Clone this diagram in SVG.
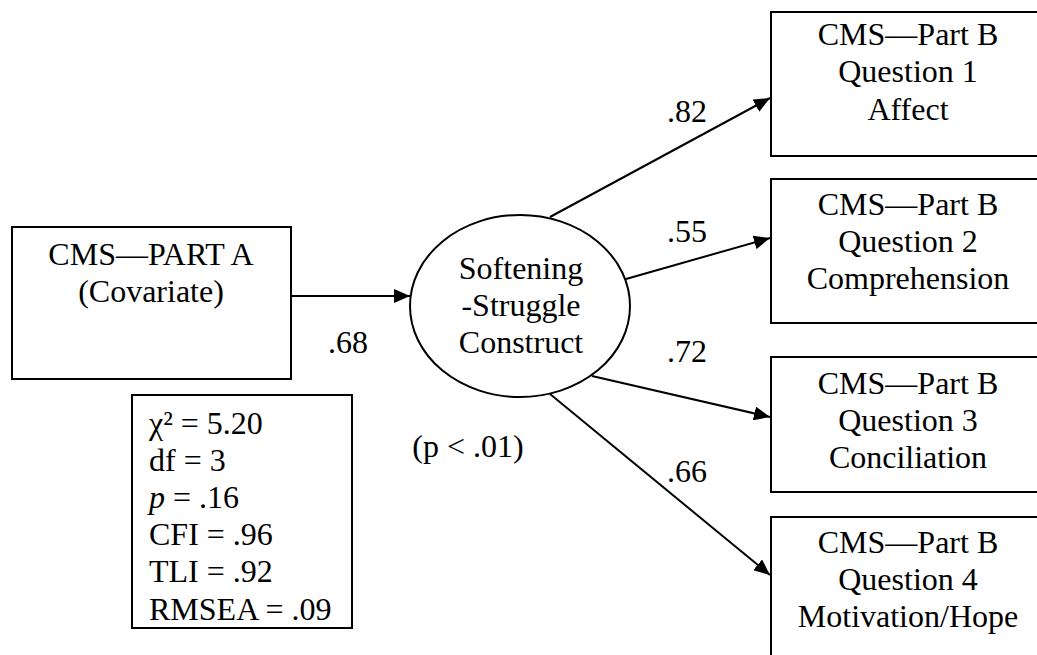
<svg xmlns="http://www.w3.org/2000/svg" width="1037" height="655" viewBox="0 0 1037 655" font-family="Liberation Serif, Tinos, Times New Roman, DejaVu Serif, serif" font-size="32">
<style>
text{font-family:'Liberation Serif','Tinos','Times New Roman','DejaVu Serif',serif;font-size:32px;fill:#000}
.c{text-anchor:middle}
.box{fill:#fff;stroke:#000;stroke-width:2}
.edge{stroke:#000;stroke-width:2;fill:none;marker-end:url(#ah)}
</style>
<defs>
<marker id="ah" viewBox="0 0 16 14" refX="16" refY="7" markerWidth="16" markerHeight="14" markerUnits="userSpaceOnUse" orient="auto">
<path d="M0,0 L16,7 L0,14 Z" fill="#000"/>
</marker>
</defs>
<rect width="1037" height="655" fill="#fff"/>
<g id="connectors">
<line class="edge" x1="291" y1="296" x2="410" y2="296"/>
<line class="edge" x1="550" y1="217" x2="770" y2="98"/>
<line class="edge" x1="626" y1="279" x2="770" y2="238"/>
<line class="edge" x1="592" y1="376" x2="770" y2="417"/>
<line class="edge" x1="550" y1="394" x2="770" y2="575"/>
</g>
<g id="labels">
<text x="667" y="122">.82</text>
<text x="667" y="242">.55</text>
<text x="667" y="362">.72</text>
<text x="667" y="482">.66</text>
<text x="328" y="353">.68</text>
<text class="c" x="468" y="457">(p &lt; .01)</text>
</g>
<g id="partA">
<rect class="box" x="12" y="227" width="279" height="152"/>
<text class="c" x="151" y="265">CMS—PART A</text>
<text class="c" x="151" y="302">(Covariate)</text>
</g>
<g id="fit">
<rect class="box" x="132" y="395" width="220" height="233"/>
<text x="149" y="434">χ² = 5.20</text>
<text x="149" y="471">df = 3</text>
<text x="149" y="508"><tspan font-style="italic">p</tspan> = .16</text>
<text x="149" y="545">CFI = .96</text>
<text x="149" y="582">TLI = .92</text>
<text x="149" y="620">RMSEA = .09</text>
</g>
<g id="construct">
<ellipse cx="520" cy="306" rx="110" ry="91" fill="#fff" stroke="#000" stroke-width="2"/>
<text class="c" x="521" y="279">Softening</text>
<text class="c" x="521" y="316">-Struggle</text>
<text class="c" x="521" y="353">Construct</text>
</g>
<g id="q1">
<rect class="box" x="771" y="12" width="275" height="144"/>
<text class="c" x="908" y="45">CMS—Part B</text>
<text class="c" x="908" y="82">Question 1</text>
<text class="c" x="908" y="120">Affect</text>
</g>
<g id="q2">
<rect class="box" x="771" y="179" width="275" height="144"/>
<text class="c" x="908" y="215">CMS—Part B</text>
<text class="c" x="908" y="252">Question 2</text>
<text class="c" x="908" y="289">Comprehension</text>
</g>
<g id="q3">
<rect class="box" x="771" y="357" width="275" height="135"/>
<text class="c" x="908" y="394">CMS—Part B</text>
<text class="c" x="908" y="431">Question 3</text>
<text class="c" x="908" y="468">Conciliation</text>
</g>
<g id="q4">
<rect class="box" x="771" y="517" width="275" height="150"/>
<text class="c" x="908" y="553">CMS—Part B</text>
<text class="c" x="908" y="590">Question 4</text>
<text class="c" x="908" y="627">Motivation/Hope</text>
</g>
</svg>
